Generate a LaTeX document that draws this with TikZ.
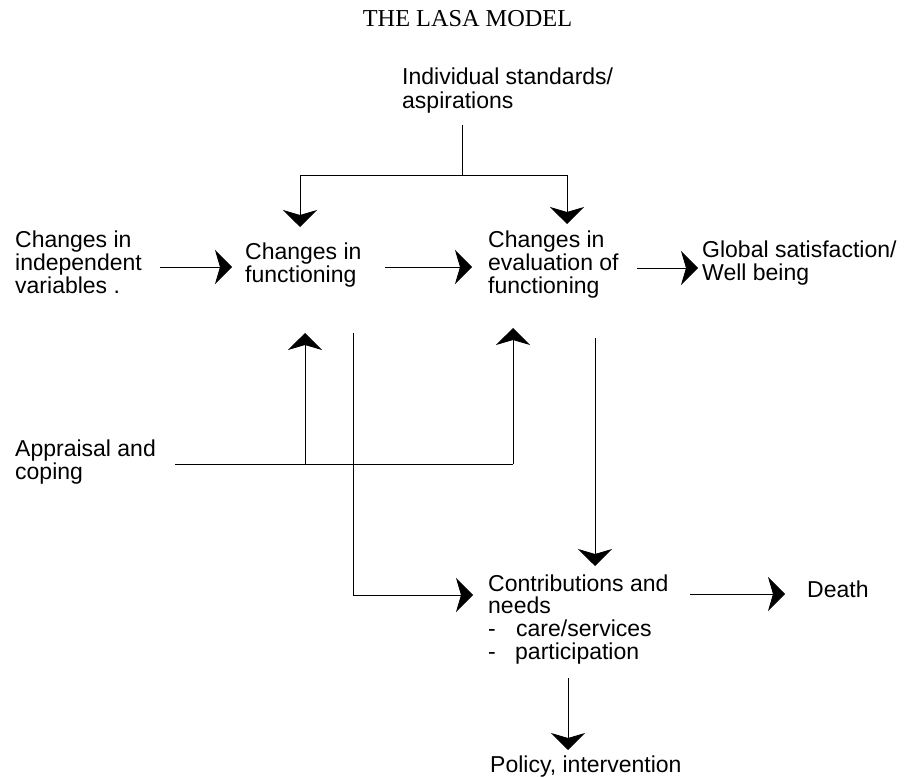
\documentclass[tikz,border=0pt]{standalone}
\usepackage{fontspec}
\newfontfamily\sansf{Liberation Sans}
\newfontfamily\seriff{Liberation Serif}
\usetikzlibrary{arrows.meta}
\tikzset{
  lbl/.style={anchor=base west, inner sep=0pt, font=\sansf\fontsize{23}{22.5}\selectfont},
  conn/.style={line width=0.9pt},
  arr/.style={line width=0.9pt, -{Stealth[length=17pt,width=34pt,inset=5pt]}},
}
\newcommand{\ml}[1]{\begin{tabular}[t]{@{}l@{}}#1\end{tabular}}
\begin{document}
\begin{tikzpicture}[x=1pt,y=-1pt]
\useasboundingbox (0,0) rectangle (915,778);
\renewcommand{\arraystretch}{1}
% title
\node[anchor=base, inner sep=0pt, font=\seriff\fontsize{24.3}{26}\selectfont] (title) at (467.5,27) {THE LASA MODEL};
% text nodes
\node[lbl] (std) at (402,85) {\ml{Individual standards/\\aspirations}};
\node[lbl] (indep) at (15,247) {\ml{Changes in\\independent\\variables .}};
\node[lbl] (func) at (245,259) {\ml{Changes in\\functioning}};
\node[lbl] (eval) at (488,247) {\ml{Changes in\\evaluation of\\functioning}};
\node[lbl] (glob) at (702,257) {\ml{Global satisfaction/\\Well being}};
\node[lbl] (appr) at (15,456) {\ml{Appraisal and\\coping}};
\node[lbl, font=\sansf\fontsize{23}{20.7}\selectfont] (contr) at (488,591) {\ml{Contributions and\\needs\\\makebox[28pt][l]{-}care/services\\\makebox[27pt][l]{-}participation}};
\node[lbl] (death) at (807,597) {Death};
\node[lbl] (pol) at (490,772) {Policy, intervention};
% coordinates
\coordinate (stdS) at (462,125);
\coordinate (stdJ) at (462,175);
\coordinate (funcT) at (300,227);
\coordinate (evalT) at (567,224);
\coordinate (indepE) at (160,267);
\coordinate (funcW) at (232,267);
\coordinate (funcE) at (385,267);
\coordinate (evalW) at (472,267);
\coordinate (evalE) at (637,268);
\coordinate (globW) at (698,268);
\coordinate (apprE) at (175,464);
\coordinate (funcB) at (305,333);
\coordinate (evalB) at (513,328);
\coordinate (funcD) at (353,333);
\coordinate (contrW) at (473,595);
\coordinate (evalD) at (595,338);
\coordinate (contrN) at (595,566);
\coordinate (contrE) at (690,594);
\coordinate (deathW) at (785,594);
\coordinate (contrS) at (568,678);
\coordinate (polN) at (568,750);
% connectors
\draw[conn] (stdS) -- (stdJ);
\draw[arr] (stdJ) -| (funcT);
\draw[arr] (stdJ) -| (evalT);
\draw[arr] (indepE) -- (funcW);
\draw[arr] (funcE) -- (evalW);
\draw[arr] (evalE) -- (globW);
\draw[conn] (apprE) -- (evalB |- apprE);
\draw[arr] (funcB |- apprE) -- (funcB);
\draw[arr] (evalB |- apprE) -- (evalB);
\draw[arr] (funcD) |- (contrW);
\draw[arr] (evalD) -- (contrN);
\draw[arr] (contrE) -- (deathW);
\draw[arr] (contrS) -- (polN);
\end{tikzpicture}
\end{document}
